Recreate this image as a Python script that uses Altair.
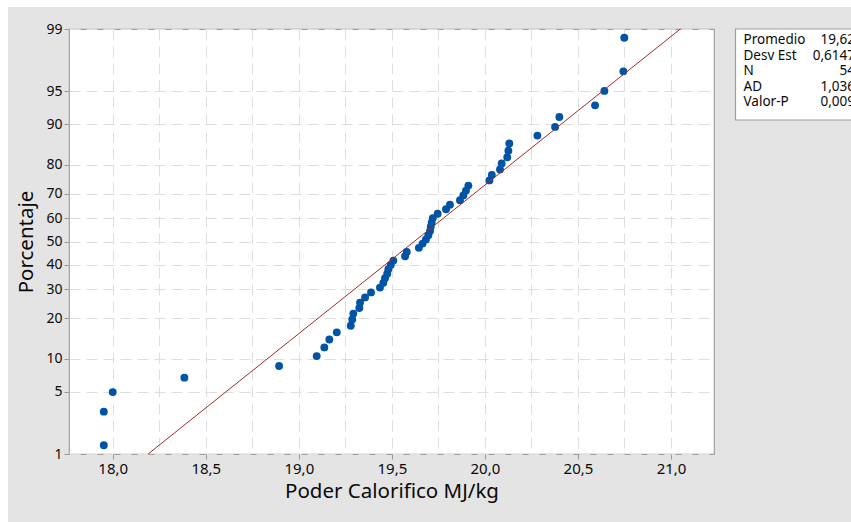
import statistics
import pandas as pd
import altair as alt

# ---- data ----
poder = [17.952, 17.952, 18.000, 18.385, 18.894, 19.096, 19.137, 19.164, 19.204,
         19.279, 19.287, 19.293, 19.325, 19.329, 19.356, 19.388, 19.436, 19.454,
         19.463, 19.475, 19.481, 19.494, 19.508, 19.571, 19.580, 19.645, 19.665,
         19.683, 19.696, 19.705, 19.709, 19.714, 19.720, 19.746, 19.791, 19.812,
         19.866, 19.884, 19.898, 19.911, 20.024, 20.037, 20.081, 20.090, 20.120,
         20.126, 20.131, 20.282, 20.377, 20.400, 20.592, 20.642, 20.744, 20.749]
promedio = 19.62
desv_est = 0.6147
stat_names = ["Promedio", "Desv Est", "N", "AD", "Valor-P"]
stat_values = ["19,62", "0,6147", "54", "1,036", "0,009"]
y_ticks = [1, 5, 10, 20, 30, 40, 50, 60, 70, 80, 90, 95, 99]
x_grid = [18.0, 18.25, 18.5, 18.75, 19.0, 19.25, 19.5, 19.75, 20.0, 20.25, 20.5, 20.75, 21.0]
fit_pct = [1, 99]

nd = statistics.NormalDist()
n = len(poder)
pts = pd.DataFrame({
    "x": sorted(poder),
    "z": [nd.inv_cdf((i - 0.3) / (n + 0.4)) for i in range(1, n + 1)],
})
fit = pd.DataFrame({
    "z": [nd.inv_cdf(p / 100) for p in fit_pct],
})
fit["x"] = promedio + fit["z"] * desv_est
y_tick_z = [nd.inv_cdf(t / 100) for t in y_ticks]
zmax = nd.inv_cdf(0.99)

FONT = "Noto Sans"
W, H = 645, 425

xscale = alt.Scale(domain=[17.765, 21.231], nice=False, zero=False)
yscale = alt.Scale(domain=[-zmax, zmax], nice=False, zero=False)

xaxis = alt.Axis(
    values=x_grid,
    labelExpr="datum.value % 0.5 == 0 ? replace(format(datum.value, '.1f'), '.', ',') : ''",
    tickOpacity={"condition": {"test": "datum.value % 0.5 != 0", "value": 0}, "value": 1},
    title="Poder Calorifico MJ/kg",
    grid=True, gridDash=[11, 6], gridColor="#dedede", gridWidth=1,
    domain=False, tickSize=5, tickColor="#999999", labelOverlap=False,
    labelFont=FONT, labelFontSize=15, labelColor="#0a0a0a", labelPadding=2,
    titleFont=FONT, titleFontSize=20.5, titleFontWeight="normal", titleColor="#0a0a0a",
    titlePadding=5,
)
yaxis = alt.Axis(
    values=y_tick_z,
    labelExpr="format(cumulativeNormal(datum.value) * 100, '.0f')",
    title="Porcentaje",
    grid=True, gridDash=[11, 6], gridColor="#dedede", gridWidth=1,
    domain=False, tickSize=5, tickColor="#999999", labelOverlap=False,
    labelFont=FONT, labelFontSize=14, labelColor="#0a0a0a", labelPadding=2,
    titleFont=FONT, titleFontSize=20.5, titleFontWeight="normal", titleColor="#0a0a0a",
    titlePadding=9,
)

points = alt.Chart(pts).mark_circle(size=62, color="#0054a6", opacity=1).encode(
    x=alt.X("x:Q", scale=xscale, axis=xaxis),
    y=alt.Y("z:Q", scale=yscale, axis=yaxis),
)
line = alt.Chart(fit).mark_line(color="#a52a2a", strokeWidth=1).encode(
    x=alt.X("x:Q", scale=xscale, axis=xaxis),
    y=alt.Y("z:Q", scale=yscale, axis=yaxis),
)

one = pd.DataFrame({"a": [0]})
strip_top = alt.Chart(one).mark_rect(color="white").encode(
    x=alt.value(-69), x2=alt.value(851 - 69), y=alt.value(-29), y2=alt.value(-22))
strip_left = alt.Chart(one).mark_rect(color="white").encode(
    x=alt.value(-69), x2=alt.value(-61), y=alt.value(-29), y2=alt.value(522 - 29))

box = alt.Chart(one).mark_rect(fill="white", stroke="#a0a0a0", strokeWidth=1.2).encode(
    x=alt.value(666.5), x2=alt.value(800), y=alt.value(0), y2=alt.value(91))

row_y = [11, 26.6, 42.2, 57.8, 73.4]
text_layers = []
for i, (nm, v) in enumerate(zip(stat_names, stat_values)):
    d = pd.DataFrame({"name": [nm], "val": [v]})
    text_layers.append(
        alt.Chart(d).mark_text(align="left", baseline="middle", font=FONT, fontSize=13.5,
                               color="#0a0a0a").encode(
            x=alt.value(674.5), y=alt.value(row_y[i]), text="name:N"))
    text_layers.append(
        alt.Chart(d).mark_text(align="right", baseline="middle", font=FONT, fontSize=13.5,
                               color="#0a0a0a").encode(
            x=alt.value(786), y=alt.value(row_y[i]), text="val:N"))

chart = alt.layer(points, line, strip_top, strip_left, box, *text_layers).properties(
    width=W, height=H,
    padding={"left": 69, "top": 29, "right": 851 - 69 - W, "bottom": 522 - 29 - H},
    autosize=alt.AutoSizeParams(type="none"),
    background="#e4e4e4",
).configure_view(fill="white", stroke="#a0a0a0", strokeWidth=1.2)

chart.save("out.html", embed_options={"renderer": "svg", "actions": False})
